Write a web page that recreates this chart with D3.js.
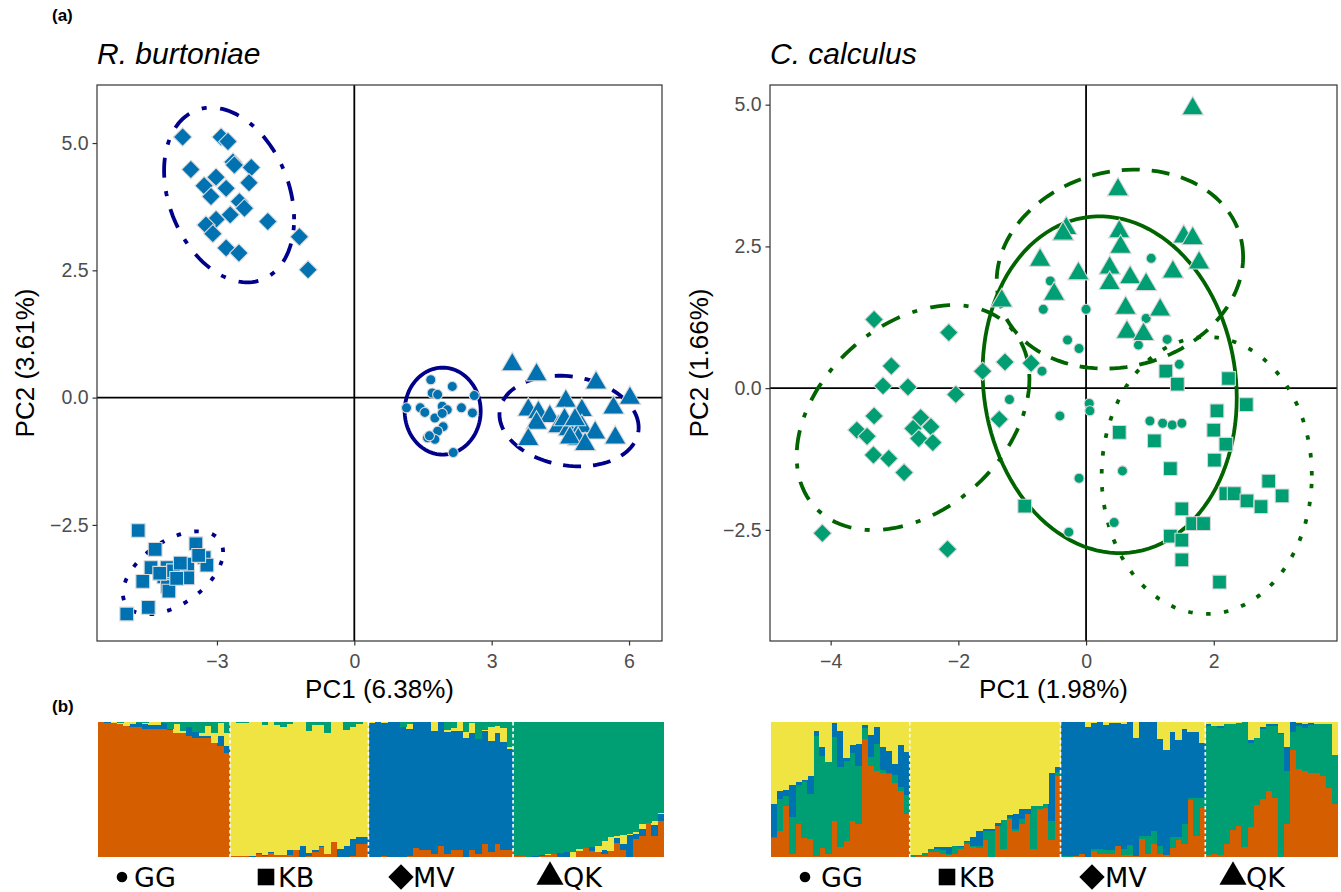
<!DOCTYPE html>
<html>
<head>
<meta charset="utf-8">
<script src="https://cdn.jsdelivr.net/npm/d3@7"></script>
<style>
  body { margin: 0; background: #fff; }
  text { font-family: "Liberation Sans", Arial, sans-serif; }
</style>
</head>
<body>
<svg id="fig" width="1341" height="892"></svg>
<script>
'use strict';

// ---- Data ---------------------------------------------------------------

var POPS = ['GG', 'KB', 'MV', 'QK'];

// R. burtoniae PCA scores [PC1, PC2]
var rbGG = [[1.67,0.35],[2.14,0.22],[1.70,0.09],[1.82,0.06],[2.62,0.04],[1.14,-0.20],[1.44,-0.20],
  [1.54,-0.29],[1.92,-0.17],[2.03,-0.24],[2.34,-0.20],[2.58,-0.30],[1.76,-0.40],[1.92,-0.31],
  [1.94,-0.57],[1.82,-0.66],[1.60,-0.79],[1.76,-0.82],[2.16,-1.08],[1.64,-0.75]];
var rbKB = [[-4.72,-2.61],[-4.35,-2.98],[-4.44,-3.34],[-4.09,-3.34],[-4.62,-3.61],[-4.16,-3.52],
  [-4.08,-3.71],[-4.05,-3.80],[-3.64,-3.27],[-3.64,-3.54],[-3.46,-2.87],[-3.28,-3.14],[-3.22,-3.29],
  [-4.50,-4.12],[-4.97,-4.25],[-3.95,-3.40],[-3.80,-3.25],[-3.40,-3.10],[-3.88,-3.55],[-4.25,-3.45]];
var rbMV = [[-3.75,5.12],[-2.91,5.12],[-2.76,5.03],[-3.57,4.48],[-2.65,4.63],[-2.62,4.57],[-2.25,4.52],
  [-3.02,4.33],[-3.28,4.16],[-2.80,4.11],[-2.30,4.22],[-3.13,3.95],[-2.51,3.85],[-2.40,3.72],
  [-2.71,3.59],[-3.02,3.50],[-3.24,3.39],[-3.09,3.22],[-1.89,3.46],[-2.80,2.94],[-2.52,2.84],
  [-1.20,3.16],[-1.01,2.51]];
var rbQK = [[3.45,0.65],[3.98,0.45],[5.28,0.29],[6.02,-0.01],[4.62,-0.07],[4.97,-0.25],[5.66,-0.20],
  [3.80,-0.24],[4.02,-0.29],[4.27,-0.37],[3.98,-0.50],[4.46,-0.57],[4.68,-0.63],[4.97,-0.57],
  [5.26,-0.69],[5.70,-0.79],[4.89,-0.82],[3.80,-0.82],[4.71,-0.79],[5.04,-0.92],[4.59,-0.43],[4.82,-0.43]];

// C. calculus PCA scores [PC1, PC2]
var ccGG = [[1.02,2.29],[-0.56,1.89],[-0.67,1.39],[0.00,1.39],[0.94,1.23],[-0.29,0.85],[-0.11,0.70],
  [0.82,0.76],[1.27,0.86],[1.46,0.42],[-0.69,0.30],[0.05,-0.27],[0.06,-0.40],[-0.41,-0.49],
  [1.00,-0.58],[1.20,-0.62],[1.35,-0.65],[1.50,-0.62],[0.57,-1.46],[-0.11,-1.59],[0.44,-2.37],
  [-0.27,-2.54],[-1.20,-0.20]];
var ccKB = [[1.25,0.30],[1.43,0.07],[2.23,0.17],[2.51,-0.29],[2.05,-0.40],[2.00,-0.74],[2.19,-0.99],
  [2.01,-1.27],[0.52,-0.78],[1.07,-0.93],[1.32,-1.42],[2.86,-1.64],[3.07,-1.90],[2.19,-1.86],
  [2.32,-1.86],[2.52,-1.99],[2.74,-2.09],[1.50,-2.13],[1.67,-2.39],[1.84,-2.39],[1.32,-2.61],
  [1.50,-2.68],[1.50,-3.03],[2.09,-3.42],[-0.96,-2.08]];
var ccMV = [[-3.32,1.21],[-2.15,0.98],[-3.05,0.39],[-3.18,0.04],[-2.79,0.02],[-2.04,-0.11],[-1.62,0.30],
  [-1.27,0.46],[-0.86,0.44],[-1.36,-0.55],[-3.32,-0.49],[-3.59,-0.74],[-3.43,-0.85],[-2.59,-0.52],
  [-2.43,-0.68],[-2.71,-0.71],[-2.62,-0.89],[-2.40,-0.96],[-3.33,-1.18],[-3.09,-1.24],[-2.85,-1.49],
  [-4.13,-2.56],[-2.17,-2.84]];
var ccQK = [[1.67,4.93],[0.50,3.50],[-0.31,2.82],[-0.36,2.72],[0.52,2.76],[0.54,2.49],[1.53,2.67],
  [1.67,2.64],[1.77,2.21],[-0.72,2.26],[-0.12,2.02],[0.37,2.12],[0.37,1.85],[0.69,1.95],[0.94,1.83],
  [1.36,2.05],[-0.50,1.66],[-1.32,1.54],[0.62,1.41],[1.16,1.38],[0.64,0.99],[0.90,0.95]];

// 95% ellipses: [pop, centre PC1, centre PC2, half-width, half-height, x-offset of topmost point]
var rbEllipses = [['GG', 1.93, -0.265, 0.83, 0.853, 0], ['KB', -3.96, -3.44, 1.094, 0.814, 0.547],
  ['MV', -2.735, 3.98, 1.42, 1.716, -0.394], ['QK', 4.69, -0.46, 1.52, 0.89, -0.22]];
var ccEllipses = [['GG', 0.37, 0.06, 1.99, 2.97, -0.157], ['KB', 1.89, -1.54, 1.646, 2.443, 0],
  ['MV', -2.71, -0.52, 1.823, 1.984, 0.627], ['QK', 0.53, 2.10, 1.93, 1.755, 0.235]];

// STRUCTURE membership (%), R. burtoniae rows: [orange, blue, yellow, green]
var rbStructGG = [[100,0,0,0],[99,1,0,0],[99,0,1,0],[98.5,0,1,0.5],[97,0,3,0],[96.5,2,1.5,0],[96,3,0,1],
  [95,3.5,1,0.5],[95,3,2,0],[95,3,2,0],[94.5,4.5,0,1],[94,1,0,5],[92,0,6.5,1.5],[91.5,0,2,6.5],
  [90,6,0,4],[88,4.5,0,7.5],[88,2,1.5,8.5],[88,2,7,3],[84.5,0,7.5,8],[82,8,9.5,0.5],[77,5.5,9.5,8]];
var rbStructKB = [[1,0,99,0],[0.5,0,98.5,1],[0.5,0,98.5,1],[0,0.5,99.5,0],[2.5,0.5,97,0],[1,0.5,96,2.5],
  [3,1,96,0],[1.2,0,96.3,2.5],[1.2,0,95.3,3.5],[1.2,4,93.3,1.5],[5.5,0,94.5,0],[0,8,92,0],[1,2,90,7],
  [3.5,2,92,2.5],[7.5,0.7,89.3,2.5],[2.5,0,89,8.5],[11,0,89,0],[0,6,94,0],[0,8.5,85.5,6],[1,12,83,4],
  [10,5,83.5,1.5],[10,5,85,0]];
var rbStructMV = [[0,99.5,0.5,0],[0,100,0,0],[0.7,98.3,1,0],[0,100,0,0],[0,100,0,0],[0,96.5,0,3.5],
  [0.5,94,4,1.5],[6.5,93.5,0,0],[5.5,94.5,0,0],[5.5,94.5,0,0],[2,91.5,6.5,0],[8,92,0,0],[2,90.5,1.5,6],
  [5,88.5,2,4.5],[5.5,88,6.5,0],[0,88.5,4,7.5],[5,87,7,1],[2.5,85,0,12.5],[9.5,84,0.5,6],
  [3.5,82.5,10.5,3.5],[10,81.5,5.5,3],[5.5,80,10,4.5],[5.5,74.5,1.5,18.5]];
var rbStructQK = [[0.5,0,0,99.5],[0.5,0,0,99.5],[0,0,0,100],[0,0.5,0,99.5],[1,0.5,0,98.5],[1.7,0,0.5,97.8],
  [2.5,0,0,97.5],[0,3,0,97],[0,3.5,0,96.5],[0,0,3.5,96.5],[4.5,0,1.2,94.3],[6.5,0,0,93.5],[4.5,3,0,92.5],
  [3.5,0,5,91.5],[2,3.5,6,88.5],[4.5,0,10.5,85],[10.5,3.5,1.2,84.8],[5,4.5,6.5,84],[0,16,0.8,83.2],
  [13,3.7,1.5,81.8],[15.5,5,3.7,75.8],[25,0.5,0,74.5],[15.5,8,3.2,73.3],[26.5,5,1,67.5]];

// STRUCTURE membership (%), C. calculus rows: [orange, green, blue, yellow]
var ccStructGG = [[14.4,0.5,24.3,60.8],[19,24.3,5.4,51.3],[38,7,5,50],[2.5,27,24,46.5],[24.8,28.5,2,44.7],
  [14.4,42,0.7,42.9],[13.6,33,13.4,40],[0.7,89,3.7,6.6],[6.7,68,7,18.3],[2.2,68,0,29.8],[26.5,62.6,10.4,0.5],
  [7.4,59.4,26.5,6.7],[11.6,59.4,2.5,26.5],[26.5,50.7,5.7,17.1],[24.8,42.8,16,16.4],[87.4,7.9,2.5,2.2],
  [67.6,6.7,16,9.7],[63.9,19.8,12.4,3.9],[62.4,2,16.8,18.8],[61.4,0.5,16.8,21.3],[54.5,6.2,8.2,31.1],
  [49,2.5,31.4,17.1],[31.7,14,32,22.3]];
var ccStructKB = [[0,1.2,0,98.8],[0.7,0.5,0,98.8],[0.7,2.5,0,96.8],[3.7,2,0,94.3],[3.7,2.5,1.2,92.6],
  [2.5,3,2,92.5],[1.7,0.7,5,92.6],[2.5,5.4,0,92.1],[5.7,1.7,1,91.6],[9.4,1.5,1,88.1],[7.4,0.5,7,85.1],
  [7,1.2,11,80.8],[12.9,6.2,1.5,79.4],[0,19,1.5,79.5],[22.8,0,2.7,74.5],[5.7,21.5,0,72.8],[28,0.7,2.2,69.1],
  [19,1.5,11,68.5],[24.3,3.7,7.4,64.6],[32,0,3.2,64.8],[5.7,32,0,62.3],[35.4,2.7,0,61.9],[36.4,2.7,0,60.9],
  [12.9,13.6,36,37.5],[60,3.2,3.2,33.6]];
var ccStructMV = [[0,0.5,99.5,0],[0,0.5,99.5,0],[0.5,0,99.5,0],[2.5,0,97.5,0],[0,0,96.5,3.5],[4.2,1.5,93.3,1],
  [2,4.2,93.8,0],[2.5,3,92.5,2],[2.5,2.5,94,1],[8.2,0,90.8,1],[1.2,4.5,92.6,1.7],[1.2,7.4,91.4,0],
  [0.5,0,87.9,11.6],[13,2.2,84.8,0],[2,13.4,84.6,0],[9.4,9.7,80.9,0],[2,6.2,79.2,12.6],[1.2,0,78,20.8],
  [7,8,77.3,7.7],[12.4,2.5,71.7,13.4],[9.4,15.3,69.8,5.5],[42,2,48.3,7.7],[15.3,28.7,48.3,7.7],
  [36.6,7.2,40.9,15.3]];
var ccStructQK = [[1.7,95.3,1.5,1.5],[2.5,94.5,0,3],[1.2,94.1,1.7,3],[9.4,89.1,0,1.5],[19.8,78.7,0,1.5],
  [22.8,76.7,0,0.5],[7.4,92.6,0,0],[22.3,62.4,2,13.3],[38.4,50,0,11.6],[43.3,51.2,1.5,4],[49,48,1.5,1.5],
  [44,53,1.5,1.5],[0,91,1.2,7.8],[24.3,39.4,18,18.3],[79.2,13.1,7.7,0],[64.9,32.1,2,1],[63.6,32.2,2.7,1.5],
  [62.4,35.4,1.2,1],[62.4,35.9,0,1.7],[60,38.5,0,1.5],[51.2,47.3,0,1.5],[39,36.9,0,24.1]];

var rbAxisTicksX = [-3, 0, 3, 6];
var ccAxisTicksX = [-4, -2, 0, 2];
var pcaTicksY = [-2.5, 0, 2.5, 5];

// ---- Styling ------------------------------------------------------------

var COLOR = { orange: '#D55E00', yellow: '#F0E442', blue: '#0072B2', green: '#009E73' };
var LINE_DASH = { GG: null, KB: '4.5,13.5', MV: '5,13.5,20,13.5', QK: '18,12' };
var SYMBOL_SIZE = { GG: 80, KB: 190, MV: 170, QK: 200 };

var svg = d3.select('#fig');

function symbolPath(pop, scale) {
  var s = (scale || 1) * SYMBOL_SIZE[pop];
  if (pop === 'GG') return d3.symbol(d3.symbolCircle, s)();
  if (pop === 'KB') return d3.symbol(d3.symbolSquare, s)();
  if (pop === 'QK') return d3.symbol(d3.symbolTriangle, s)();
  return d3.symbol(d3.symbolSquare, s)();
}

function drawPca(cfg) {
  var g = svg.append('g').attr('transform', 'translate(' + cfg.left + ',' + cfg.top + ')');
  var x = d3.scaleLinear().domain(cfg.xDomain).range([0, cfg.w]);
  var y = d3.scaleLinear().domain(cfg.yDomain).range([cfg.h, 0]);

  // zero lines
  g.append('line').attr('x1', x(0)).attr('x2', x(0)).attr('y1', 0).attr('y2', cfg.h)
    .attr('stroke', '#000').attr('stroke-width', 1.8);
  g.append('line').attr('x1', 0).attr('x2', cfg.w).attr('y1', y(0)).attr('y2', y(0))
    .attr('stroke', '#000').attr('stroke-width', 1.8);

  // ellipses
  var line = d3.line().curve(d3.curveLinearClosed);
  cfg.ellipses.forEach(function(e) {
    var cx = e[1], cy = e[2], hw = e[3], hh = e[4], sxy = e[5] * hh;
    var l11 = hw, l21 = sxy / hw, l22 = Math.sqrt(hh * hh - l21 * l21);
    var pts = d3.range(0, 120).map(function(i) {
      var t = i / 120 * 2 * Math.PI;
      return [x(cx + l11 * Math.cos(t)), y(cy + l21 * Math.cos(t) + l22 * Math.sin(t))];
    });
    g.append('path')
      .attr('d', line(pts))
      .attr('fill', 'none')
      .attr('stroke', cfg.lineColor)
      .attr('stroke-width', 3.8)
      .attr('stroke-dasharray', LINE_DASH[e[0]]);
  });

  // points
  POPS.forEach(function(pop) {
    g.selectAll('path.pt-' + pop)
      .data(cfg.points[pop])
      .enter()
      .append('path')
      .attr('class', 'pt-' + pop)
      .attr('d', symbolPath(pop))
      .attr('transform', function(d) {
        return 'translate(' + x(d[0]) + ',' + y(d[1]) + ')' + (pop === 'MV' ? ' rotate(45)' : '');
      })
      .attr('fill', cfg.fill)
      .attr('stroke', '#d9d9d9')
      .attr('stroke-width', 1.1);
  });

  // border
  g.append('rect').attr('width', cfg.w).attr('height', cfg.h)
    .attr('fill', 'none').attr('stroke', '#333').attr('stroke-width', 1.2);

  var xAxis = g.append('g').attr('transform', 'translate(0,' + cfg.h + ')')
    .call(d3.axisBottom(x).tickValues(cfg.xTicks).tickSize(4.5).tickPadding(9).tickFormat(d3.format('d')));
  var yAxis = g.append('g')
    .call(d3.axisLeft(y).tickValues(pcaTicksY).tickSize(4.5).tickPadding(4).tickFormat(d3.format('.1f')));
  [xAxis, yAxis].forEach(function(a) {
    a.select('.domain').remove();
    a.selectAll('.tick line').attr('stroke', '#333').attr('stroke-width', 1.2);
    a.selectAll('.tick text').attr('fill', '#4D4D4D').style('font-size', '19.5px')
      .style('font-family', '"Liberation Sans", Arial, sans-serif');
  });

  g.append('text').attr('x', cfg.w / 2).attr('y', cfg.h + 57).attr('text-anchor', 'middle')
    .style('font-size', '26px').text(cfg.xTitle);
  g.append('text').attr('transform', 'translate(' + cfg.yTitleX + ',' + cfg.h / 2 + ') rotate(-90)')
    .attr('text-anchor', 'middle').style('font-size', '26px').text(cfg.yTitle);
  g.append('text').attr('x', 0).attr('y', -21).style('font-size', '30px').style('font-style', 'italic')
    .text(cfg.title);
}

function drawStructure(cfg) {
  var rows = [];
  var starts = [];
  cfg.groups.forEach(function(grp) {
    starts.push(rows.length);
    grp.forEach(function(r) {
      var sum = d3.sum(r);
      var o = {};
      cfg.order.forEach(function(k, i) { o[k] = r[i] / sum; });
      rows.push(o);
    });
  });
  var x = d3.scaleBand().domain(d3.range(rows.length)).range([cfg.x0, cfg.x1]).padding(0);
  var y = d3.scaleLinear().domain([0, 1]).range([cfg.y1, cfg.y0]);
  var series = d3.stack().keys(cfg.order)(rows);

  var g = svg.append('g');
  g.selectAll('g.layer')
    .data(series)
    .enter()
    .append('g')
    .attr('fill', function(s) { return COLOR[s.key]; })
    .selectAll('rect')
    .data(function(s) { return s; })
    .enter()
    .append('rect')
    .attr('x', function(d, i) { return x(i); })
    .attr('width', x.bandwidth() + 0.4)
    .attr('y', function(d) { return y(d[1]); })
    .attr('height', function(d) { return Math.max(0, y(d[0]) - y(d[1])); })
    .attr('shape-rendering', 'crispEdges');

  starts.slice(1).forEach(function(s) {
    g.append('line').attr('x1', x(s)).attr('x2', x(s)).attr('y1', cfg.y0).attr('y2', cfg.y1)
      .attr('stroke', '#fff').attr('stroke-width', 1.6).attr('stroke-dasharray', '3.5,2.5');
  });
}

function drawLegend(items, baseline) {
  var g = svg.append('g');
  items.forEach(function(it, i) {
    var scale = [1.1, 1.45, 1.9, 1.6][i];
    g.append('path')
      .attr('d', symbolPath(POPS[i], scale))
      .attr('transform', 'translate(' + it[0] + ',' + (baseline - 10) + ')' + (POPS[i] === 'MV' ? ' rotate(45)' : ''))
      .attr('fill', '#000');
    g.append('text').attr('x', it[1]).attr('y', baseline)
      .style('font-family', '"DejaVu Sans", sans-serif').style('font-size', '27px')
      .text(POPS[i]);
  });
}

// ---- Layout -------------------------------------------------------------

svg.append('text').attr('x', 52).attr('y', 21).style('font-size', '17px').style('font-weight', 'bold').text('(a)');
svg.append('text').attr('x', 52).attr('y', 712).style('font-size', '17px').style('font-weight', 'bold').text('(b)');

drawPca({
  left: 97, top: 85, w: 565, h: 556,
  xDomain: [-5.62, 6.72], yDomain: [-4.78, 6.14],
  xTicks: rbAxisTicksX,
  points: { GG: rbGG, KB: rbKB, MV: rbMV, QK: rbQK },
  ellipses: rbEllipses,
  fill: COLOR.blue, lineColor: '#00008B',
  xTitle: 'PC1 (6.38%)', yTitle: 'PC2 (3.61%)', yTitleX: -63,
  title: 'R. burtoniae'
});

drawPca({
  left: 770, top: 85, w: 567, h: 556,
  xDomain: [-4.95, 3.93], yDomain: [-4.46, 5.347],
  xTicks: ccAxisTicksX,
  points: { GG: ccGG, KB: ccKB, MV: ccMV, QK: ccQK },
  ellipses: ccEllipses,
  fill: COLOR.green, lineColor: '#006400',
  xTitle: 'PC1 (1.98%)', yTitle: 'PC2 (1.66%)', yTitleX: -62,
  title: 'C. calculus'
});

drawStructure({
  x0: 98, x1: 664, y0: 722, y1: 857,
  order: ['orange', 'blue', 'yellow', 'green'],
  groups: [rbStructGG, rbStructKB, rbStructMV, rbStructQK]
});

drawStructure({
  x0: 771, x1: 1338, y0: 722, y1: 857,
  order: ['orange', 'green', 'blue', 'yellow'],
  groups: [ccStructGG, ccStructKB, ccStructMV, ccStructQK]
});

drawLegend([[122, 134], [266, 278], [401, 413], [550, 563]], 887);
drawLegend([[805, 821], [947, 959], [1092, 1105], [1233, 1246]], 887);
</script>
</body>
</html>
